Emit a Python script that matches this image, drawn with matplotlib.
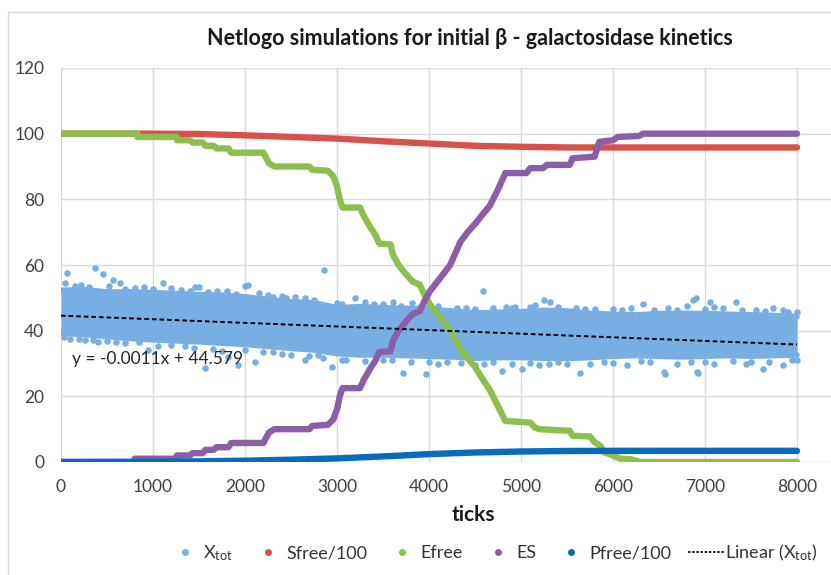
import numpy as np
import matplotlib
matplotlib.use("Agg")
import matplotlib.pyplot as plt
from matplotlib.lines import Line2D
from matplotlib.patches import Rectangle
from matplotlib.ticker import FuncFormatter

plt.rcParams['font.family'] = ['Lato', 'DejaVu Sans']
plt.rcParams['mathtext.fontset'] = 'custom'
plt.rcParams['mathtext.rm'] = 'Lato'
plt.rcParams['mathtext.it'] = 'Lato:italic'
plt.rcParams['mathtext.bf'] = 'Lato:bold'

# X_tot cloud: dense band edges (read every 250 ticks) + stray points
band_x = np.arange(0, 8001, 250)
band_top = [52.3, 52.5, 51.8, 51.8, 51.6, 51.3, 51.0, 50.8, 50.3, 49.5, 48.8,
            48.5, 47.0, 47.3, 47.0, 46.8, 46.5, 46.0, 45.4, 45.6, 45.8, 46.2,
            46.0, 45.3, 45.0, 44.8, 45.2, 45.3, 45.2, 45.0, 44.8, 44.6, 44.3]
band_low = [39.2, 38.8, 38.2, 37.6, 37.2, 36.9, 36.6, 36.2, 35.8, 35.2, 34.6,
            34.1, 33.0, 32.6, 32.6, 32.4, 32.2, 32.0, 31.6, 31.8, 31.8, 31.6,
            31.5, 31.8, 32.2, 32.4, 32.2, 32.0, 32.2, 32.4, 32.2, 32.4, 32.6]
# outliers above the band
top_x = [60, 370, 460, 570, 640, 1110, 1460, 1500, 2000, 2030, 2300, 2540,
         2860, 3200, 3610, 3810, 4590, 4840, 4935, 5250, 5320, 6330, 6870,
         6900, 7050, 7340, 7740,
         40, 150, 220, 300, 520, 700, 800, 900, 1000, 1200, 1300, 1400, 1600,
         1700, 1800, 1900, 2150, 2250, 2400, 2450, 2650, 2750, 3000, 3050,
         3300, 3400, 3500, 3700, 3900, 4000, 4100, 4300, 4400, 4500, 4700,
         4900, 5100, 5150, 5400, 5600, 5700, 5800, 6000, 6100, 6200, 6450,
         6600, 6700, 6800, 7000, 7100, 7200, 7400, 7550, 7650, 7850, 7900, 8000]
top_y = [57.5, 59.2, 57.2, 55.5, 54.4, 54.4, 53.4, 53.4, 53.6, 54.0, 50.3, 50.3,
         58.4, 49.8, 48.8, 48.3, 52.1, 47.3, 47.3, 49.2, 48.8, 48.1, 49.3,
         50.0, 48.8, 48.6, 46.8,
         54.5, 53.5, 54.0, 53.2, 53.6, 52.8, 53.0, 53.2, 52.6, 53.0, 52.5, 52.2, 51.8,
         52.0, 52.2, 51.2, 51.5, 50.8, 50.5, 50.0, 49.8, 49.3, 48.5, 48.0,
         48.6, 48.2, 48.0, 47.6, 47.2, 47.6, 47.4, 46.8, 47.0, 46.6, 46.8,
         47.0, 47.2, 47.8, 47.2, 47.0, 46.5, 46.6, 46.5, 46.2, 46.8, 46.4,
         46.8, 46.2, 47.5, 46.6, 47.2, 46.8, 46.2, 46.4, 46.0, 46.2, 45.8, 45.6]
# outliers below the band
low_x = [260, 405, 950, 1560, 1820, 1925, 2110, 2650, 2790, 2945, 3720,
         3970, 4790, 5010, 5640, 6550, 6560, 6910, 6920, 7630,
         30, 100, 200, 350, 500, 600, 700, 850, 1050, 1200, 1350, 1450, 1650,
         1750, 2000, 2200, 2300, 2400, 2500, 2700, 2850, 3050, 3100, 3300,
         3500, 3600, 3800, 4000, 4100, 4200, 4350, 4500, 4600, 4700, 4900,
         5100, 5200, 5300, 5400, 5500, 5750, 5900, 6000, 6150, 6300, 6400,
         6700, 6850, 7000, 7100, 7300, 7450, 7500, 7700, 7850, 7950, 8000]
low_y = [37.1, 36.4, 34.0, 28.5, 32.1, 29.5, 30.5, 31.0, 32.6, 28.9, 27.2,
         26.8, 27.8, 28.2, 27.2, 27.5, 26.8, 27.5, 27.1, 28.2,
         38.0, 37.5, 37.6, 37.2, 36.8, 36.5, 36.2, 36.4, 35.4, 35.5, 35.2, 34.8, 34.5,
         33.8, 34.2, 33.4, 33.5, 33.0, 32.6, 32.2, 31.6, 31.2, 31.0, 30.8,
         31.0, 31.0, 30.4, 30.6, 30.0, 30.5, 30.2, 29.6, 30.0, 30.4, 29.8,
         30.2, 29.4, 30.0, 30.4, 29.8, 30.0, 30.5, 30.2, 29.6, 30.8, 30.6,
         29.8, 30.4, 30.5, 30.0, 30.8, 30.0, 30.6, 30.4, 29.6, 31.0, 31.0]

# trendline shown in the chart
trend_slope = -0.0011
trend_intercept = 44.579
trend_x = [0, 8000]

sfree_x = [0, 1000, 1500, 2000, 2500, 3000, 3500, 4000, 4500, 5000, 5500, 8000]
sfree_y = [100, 100, 99.9, 99.5, 99.0, 98.5, 97.7, 97.0, 96.3, 96.0, 95.8, 95.8]

efree_x = [0, 830, 830, 1260, 1260, 1400, 1430, 1540, 1570, 1660, 1690, 1820,
           1850, 2200, 2260, 2320, 2700, 2730, 2900, 2960, 3000, 3030, 3060,
           3250, 3290, 3360, 3420, 3460, 3580, 3610, 3670, 3740, 3820, 3900,
           3950, 4010, 4120, 4230, 4340, 4420, 4500, 4600, 4660, 4750, 4830,
           5100, 5150, 5200, 5530, 5560, 5750, 5800, 5860, 5900, 6000, 6080,
           6200, 6300, 8000]
efree_y = [100, 100, 99, 99, 98, 98, 97.3, 97.3, 96.3, 96.3, 95.5, 95.5,
           94.2, 94.2, 91, 90, 90, 89, 88.7, 87, 84, 80, 77.5,
           77.5, 75, 71.6, 69, 66.5, 66.3, 63, 60, 57.5, 55, 54,
           51, 48, 44, 40.2, 34.5, 31.5, 29, 24.5, 22, 17, 12.5,
           12, 10.5, 10, 9.5, 8, 7.8, 6, 5, 3, 2, 1,
           0.8, 0, 0]

es_x = [0, 800, 800, 1260, 1260, 1400, 1430, 1540, 1570, 1660, 1690, 1820,
        1850, 2200, 2260, 2320, 2700, 2730, 2900, 2960, 3000, 3030, 3060,
        3250, 3290, 3360, 3420, 3460, 3580, 3610, 3670, 3740, 3820, 3900,
        3950, 4010, 4120, 4230, 4340, 4420, 4500, 4600, 4660, 4750, 4830,
        5060, 5100, 5240, 5280, 5530, 5560, 5800, 5850, 6000, 6050, 6280,
        6330, 8000]
es_y = [0, 0, 1, 1, 2, 2, 2.7, 2.7, 3.7, 3.7, 4.5, 4.5,
        5.8, 5.8, 9, 10, 10, 11, 11.3, 13, 16, 20, 22.5,
        22.5, 25, 28.4, 31, 33.5, 33.7, 37, 40, 42.5, 45, 46,
        49, 52, 56, 60, 67, 70, 72.5, 76, 78, 83, 88,
        88, 89.5, 89.5, 90.5, 90.5, 92.5, 93, 97.5, 98, 99, 99.3,
        100, 100]

pfree_x = [0, 1000, 1500, 2000, 2500, 3000, 3500, 4000, 4500, 5000, 5500, 6000, 8000]
pfree_y = [0, 0.05, 0.2, 0.4, 0.7, 1.1, 1.7, 2.4, 2.9, 3.2, 3.35, 3.4, 3.4]

c_x = '#78AEE2'
c_s = '#D9514B'
c_e = '#8CBF4D'
c_es = '#8A5FA8'
c_p = '#0A6BBE'

W, H = 831, 575
fig = plt.figure(figsize=(W / 100, H / 100), dpi=100)
# plot area: x=0 at px 61, x=9000 at px 889 (cropped on the right)
ax = fig.add_axes([61 / W, (H - 462) / H, 828 / W, 394 / H])

fig.add_artist(Rectangle((8 / W, -0.1), 1.5, 0.1 + 1 - 12 / H,
                         transform=fig.transFigure, fill=False,
                         edgecolor='#D9D9D9', lw=1))

# X_tot cloud
ax.fill_between(band_x, band_low, band_top, color=c_x, lw=0, zorder=1)
ax.plot(band_x, band_top, color=c_x, lw=4, solid_joinstyle='round',
        solid_capstyle='round', zorder=1)
ax.plot(band_x, band_low, color=c_x, lw=4, solid_joinstyle='round',
        solid_capstyle='round', zorder=1)
ax.scatter(top_x + low_x, top_y + low_y, s=22, color=c_x, lw=0, zorder=1)

lw = 4.6
for xs, ys, col, z in [(sfree_x, sfree_y, c_s, 2), (efree_x, efree_y, c_e, 3),
                       (es_x, es_y, c_es, 4), (pfree_x, pfree_y, c_p, 5)]:
    ax.plot(xs, ys, color=col, lw=lw, solid_capstyle='round',
            solid_joinstyle='round', zorder=z)

trend_y = [trend_intercept + trend_slope * v for v in trend_x]
ax.plot(trend_x, trend_y, color='black', lw=1.4, ls=(0, (2.4, 1.5)), zorder=6)

ax.text(120, 31.4, 'y = -0.0011x + 44.579', fontsize=12.5, color='#262626',
        va='center', ha='left', zorder=7)

ax.set_xlim(0, 9000)
ax.set_ylim(0, 120)
ax.set_xticks(np.arange(0, 9001, 1000))
ax.xaxis.set_major_formatter(FuncFormatter(lambda v, p: '' if v > 8000 else f'{v:.0f}'))
ax.set_yticks(np.arange(0, 121, 20))
ax.grid(True, color='#D9D9D9', lw=1)
ax.set_axisbelow(True)
for s in ax.spines.values():
    s.set_visible(False)
ax.tick_params(length=0, pad=12, labelsize=12.5, labelcolor='#404040')

fig.text(470 / W, 1 - 45 / H, 'Netlogo simulations for initial β - galactosidase kinetics',
         ha='center', va='baseline', fontsize=15.5, fontweight='bold', color='#1a1a1a')
fig.text(473 / W, 1 - 515 / H, 'ticks', ha='center', va='center',
         fontsize=15, fontweight='bold', color='#1a1a1a')

handles = [Line2D([], [], ls='none', marker='o', markersize=4, color=c)
           for c in [c_x, c_s, c_e, c_es, c_p]]
handles.append(Line2D([], [], color='black', lw=1.2, ls=(0, (1.5, 1))))
labels = [r'X$_{\rm tot}$', 'Sfree/100', 'Efree', 'ES', 'Pfree/100',
          r'Linear (X$_{\rm tot}$)']
fig.legend(handles, labels, loc='center', bbox_to_anchor=(492 / W, 1 - 553 / H),
           bbox_transform=fig.transFigure, ncol=6, frameon=False, fontsize=13,
           handlelength=2.05, handletextpad=0.0, columnspacing=0.9,
           labelcolor='#333333')

fig.savefig('out.png', dpi=100)
